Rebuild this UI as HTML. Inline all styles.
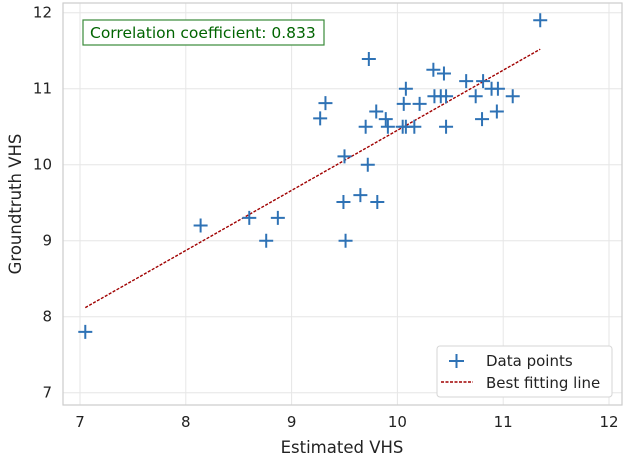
<!DOCTYPE html>
<html><head><meta charset="utf-8"><style>
body{margin:0;background:#fff;font-family:"DejaVu Sans","Liberation Sans",sans-serif}
svg text{font-family:"DejaVu Sans","Liberation Sans",sans-serif}
</style></head><body>
<svg id="chart" width="624" height="458" xmlns="http://www.w3.org/2000/svg"></svg>
<script>
const xs=[11.35,9.73,10.34,10.44,10.65,10.81,10.08,10.89,10.95,10.35,10.41,10.46,10.74,11.09,9.32,10.06,10.21,9.80,9.27,9.89,10.94,10.80,9.70,9.91,10.05,10.08,10.16,10.46,9.50,9.72,9.65,9.49,9.81,8.87,8.76,9.51,8.60,8.14,7.05];
const ys=[11.9,11.39,11.25,11.2,11.1,11.1,11.0,11.0,11.0,10.9,10.9,10.9,10.9,10.9,10.81,10.8,10.8,10.7,10.61,10.6,10.7,10.6,10.5,10.5,10.5,10.5,10.5,10.5,10.11,10.0,9.6,9.51,9.51,9.3,9.0,9.0,9.3,9.2,7.8];
const lineX=[7.05,11.35];
const lineY=[8.12,11.52];
const xTicks=[7,8,9,10,11,12];
const yTicks=[7,8,9,10,11,12];
const corrText="Correlation coefficient: 0.833";
const NS="http://www.w3.org/2000/svg";
const svg=document.getElementById('chart');
const L=63,R=622,T=3,B=405;
const X=v=>80+(v-7)*105.8;
const Y=v=>12.7+(12-v)*76;
function mk(t,a,p){const e=document.createElementNS(NS,t);for(const k in a)e.setAttribute(k,a[k]);(p||svg).appendChild(e);return e;}
const grid=mk('g',{});


xTicks.forEach(t=>{mk('line',{x1:X(t),x2:X(t),y1:T,y2:B,stroke:'#e6e6e6','stroke-width':1},grid);
const tl=mk('text',{x:X(t),y:427,'text-anchor':'middle','font-size':15,fill:'#222'});tl.textContent=t;

});
yTicks.forEach(t=>{mk('line',{x1:L,x2:R,y1:Y(t),y2:Y(t),stroke:'#e6e6e6','stroke-width':1},grid);
const tl=mk('text',{x:52,y:Y(t)+5,'text-anchor':'end','font-size':15,fill:'#222'});tl.textContent=t;

});
const fr=mk('rect',{x:L,y:T,width:R-L,height:B-T,fill:'none',stroke:'#cccccc','stroke-width':1.2});


const ln=mk('line',{x1:X(lineX[0]),y1:Y(lineY[0]),x2:X(lineX[1]),y2:Y(lineY[1]),stroke:'#a00000','stroke-width':1.4,'stroke-dasharray':'3,1.5'});


xs.forEach((v,i)=>{const cx=X(v),cy=Y(ys[i]);
const p=mk('path',{d:`M${cx-7},${cy}H${cx+7}M${cx},${cy-7}V${cy+7}`,stroke:'#2e72b5','stroke-width':2});

});
const cb=mk('g',{});


mk('rect',{x:83,y:20,width:241,height:25,fill:'#fff',stroke:'#3a8a3a','stroke-width':1.2},cb);
const ct=mk('text',{x:90,y:38,'font-size':15.5,fill:'#006400'},cb);ct.textContent=corrText;
const lg=mk('g',{});


mk('rect',{x:437,y:346,width:175,height:51,rx:3,fill:'#fff',stroke:'#d6d6d6'},lg);
mk('path',{d:'M449,361H464M456.5,354V368',stroke:'#2e72b5','stroke-width':2},lg);
const t1=mk('text',{x:486,y:366,'font-size':15,fill:'#222'},lg);t1.textContent='Data points';
mk('line',{x1:441,x2:473,y1:382,y2:382,stroke:'#a00000','stroke-width':1.4,'stroke-dasharray':'3,1.5'},lg);
const t2=mk('text',{x:486,y:388,'font-size':15,fill:'#222'},lg);t2.textContent='Best fitting line';
const xt=mk('text',{x:342,y:453,'text-anchor':'middle','font-size':16.5,fill:'#222'});xt.textContent='Estimated VHS';


const yt=mk('text',{x:0,y:0,'text-anchor':'middle','font-size':16.5,fill:'#222',transform:'translate(21,204) rotate(-90)'});yt.textContent='Groundtruth VHS';


</script>
</body></html>
